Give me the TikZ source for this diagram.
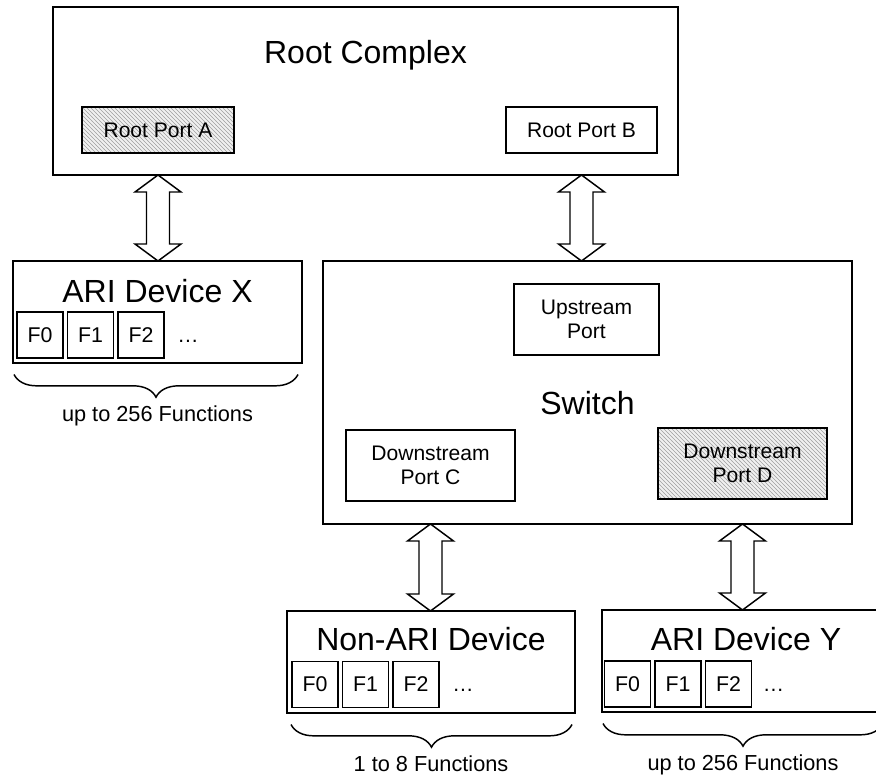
\documentclass[tikz,border=0pt]{standalone}
\usepackage{fontspec}
\setmainfont{Liberation Sans}
\usetikzlibrary{calc, patterns, decorations.pathreplacing, positioning}

\tikzset{
  frame/.style={draw, line width=2.2pt, inner sep=0pt, outer sep=0pt},
  portbox/.style={draw, line width=1.3pt, inner sep=0pt, align=center,
    font=\fontsize{15.8}{18}\selectfont},
  hatched/.style={preaction={fill=gray!12}, pattern=north west lines, pattern color=gray!75},
  fbox/.style={draw, line width=1.1pt, inner sep=0pt, minimum size=46*0.75pt,
    font=\fontsize{16}{18}\selectfont},
  ftext/.style={font=\fontsize{16}{18}\selectfont, inner sep=0pt},
  title/.style={font=\fontsize{24}{27}\selectfont, anchor=base, inner sep=0pt},
  fnlabel/.style={font=\fontsize{16.3}{18}\selectfont, anchor=base, inner sep=0pt},
  fatarrow/.style={draw, line width=1.1pt, fill=white, line join=miter},
  curly/.style={decorate, decoration={brace, mirror, amplitude=17pt}, line width=1.1pt},
  sized/.style 2 args={minimum width=#1*0.75pt, minimum height=#2*0.75pt}
}

\newcommand{\fatlink}[2]{%
  \draw[fatarrow] (#1) -- ++(23,17) -- ++(-11.5,0) -- ($(#2)+(11.5,-17)$) -- ++(11.5,0)
    -- (#2) -- ++(-23,-17) -- ++(11.5,0) -- ($(#1)+(-11.5,17)$) -- ++(-11.5,0) -- cycle;}

\begin{document}
\begin{tikzpicture}[x=0.75pt, y=-0.75pt]
\path[use as bounding box, clip] (0,0) rectangle (876,777);

\node[frame, sized={625}{168}] (rc) at (365.5,91) {};
\node[title] (rctitle) at (365.5,64) {Root Complex};
\node[portbox, hatched, sized={152}{46}] (porta) at (158,130) {Root Port A};
\node[portbox, sized={151}{46}] (portb) at (581.5,130) {Root Port B};

\node[frame, sized={529}{263}] (sw) at (587.5,392.5) {};
\node[title] (swtitle) at (587.5,415) {Switch};
\node[portbox, sized={145}{71}] (upport) at (586.5,319.5) {Upstream\\Port};
\node[portbox, sized={169}{71}] (dnc) at (430.5,465.5) {Downstream\\Port C};
\node[portbox, hatched, sized={169}{71}] (dnd) at (742.5,463.5) {Downstream\\Port D};

\node[frame, sized={289}{102}] (devx) at (157.5,312) {};
\node[title] (devxtitle) at ($(devx.north)+(0,42)$) {ARI Device X};
\foreach \i in {0,1,2} {
  \node[fbox] (xf\i) at ($(devx.south west)+(27+50.5*\i,-28)$) {F\i};
}
\node[ftext, anchor=base] (xdots) at ($(xf2.base)+(47,0)$) {\ldots};
\draw[curly] ($(devx.south west)+(1,11.5)$) -- ($(devx.south east)+(-4,11.5)$);
\node[fnlabel] (xfn) at ($(devx.south)+(0,58.5)$) {up to 256 Functions};

\node[frame, sized={288}{102}] (nonari) at (431,662) {};
\node[title] (nonarititle) at ($(nonari.north)+(0,40)$) {Non-ARI Device};
\foreach \i in {0,1,2} {
  \node[fbox] (nf\i) at ($(nonari.south west)+(28+50.5*\i,-28.5)$) {F\i};
}
\node[ftext, anchor=base] (ndots) at ($(nf2.base)+(47,0)$) {\ldots};
\draw[curly] ($(nonari.south west)+(4,11.5)$) -- ($(nonari.south east)+(-3,11.5)$);
\node[fnlabel] (nfn) at ($(nonari.south)+(0,58.5)$) {1 to 8 Functions};

\node[frame, sized={288}{102}] (devy) at (746,661) {};
\node[title] (devytitle) at ($(devy.north)+(0,41)$) {ARI Device Y};
\foreach \i in {0,1,2} {
  \node[fbox] (yf\i) at ($(devy.south west)+(25.5+50.5*\i,-28)$) {F\i};
}
\node[ftext, anchor=base] (ydots) at ($(yf2.base)+(45,0)$) {\ldots};
\draw[curly] ($(devy.south west)+(1,11.5)$) -- ($(devy.south east)+(-7,11.5)$);
\node[fnlabel] (yfn) at ($(devy.south)+(-3,58.5)$) {up to 256 Functions};

\fatlink{rc.south -| porta}{devx.north -| porta}
\fatlink{rc.south -| portb}{sw.north -| portb}
\fatlink{sw.south -| dnc}{nonari.north -| dnc}
\fatlink{sw.south -| dnd}{devy.north -| dnd}
\end{tikzpicture}
\end{document}
